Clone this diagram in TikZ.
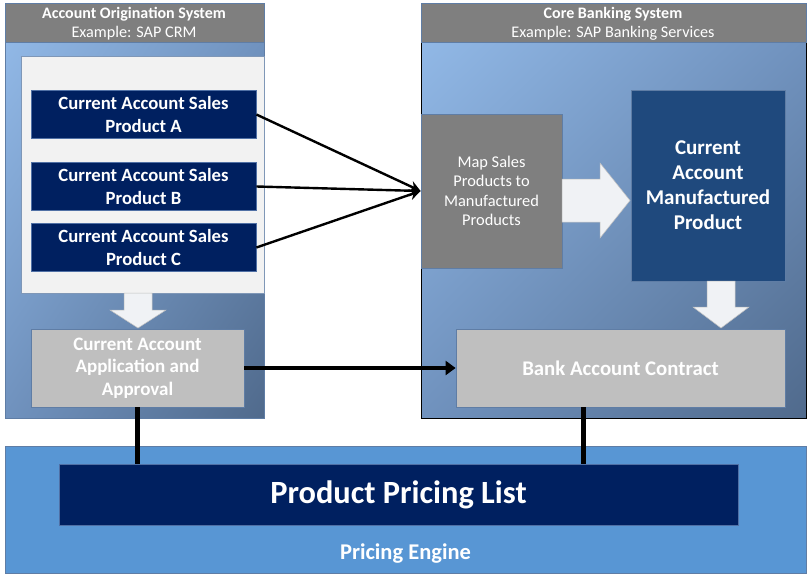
\documentclass[tikz,border=0pt]{standalone}
\usepackage{fontspec}
\setmainfont{Carlito}
\usetikzlibrary{arrows.meta,positioning,shadings}
\definecolor{hdrgray}{RGB}{127,127,127}
\definecolor{bodylt}{RGB}{145,184,230}
\definecolor{bodymid}{RGB}{112,146,190}
\definecolor{bodydk}{RGB}{80,106,140}
\definecolor{panel}{RGB}{242,242,242}
\definecolor{navy}{RGB}{0,32,96}
\definecolor{navyedge}{RGB}{80,112,165}
\definecolor{lgray}{RGB}{191,191,191}
\definecolor{boxedge}{RGB}{95,125,165}
\definecolor{mfg}{RGB}{31,73,125}
\definecolor{engine}{RGB}{88,150,212}
\definecolor{arrowfill}{RGB}{240,242,245}
\tikzset{
  box/.style={draw=boxedge, line width=0.8pt, inner sep=0pt, align=center, text=white},
  navybox/.style={box, fill=navy, draw=navyedge, font=\fontsize{18.7}{23}\selectfont\bfseries},
  graybox/.style={box, fill=lgray, font=\fontsize{19}{22.5}\selectfont\bfseries},
  hdr/.style={fill=hdrgray, draw=boxedge, line width=0.6pt},
  hdrtext/.style={text=white, font=\fontsize{16.2}{19}\selectfont},
  blockarrow/.style={fill=arrowfill, draw=black!25, line width=0.5pt},
  thinarrow/.style={draw=black, line width=2.4pt, -{Stealth[length=11pt,width=11pt]}},
  thickarrow/.style={draw=black, line width=4.5pt, -{Triangle[length=10pt,width=14pt]}},
  link/.style={draw=black, line width=5pt},
}
\begin{document}
\begin{tikzpicture}[x=1pt,y=-1pt]
\useasboundingbox (0,0) rectangle (812,576);
\fill[white] (0,0) rectangle (812,576);

% ---- Left system
\shade[upper left=bodylt, upper right=bodymid, lower left=bodymid, lower right=bodydk] (5,42) rectangle (264,418);
\draw[boxedge, line width=0.6pt] (5,42) rectangle (264,418);
\draw[hdr] (5,3) rectangle (264,42);
\node[hdrtext, font=\fontsize{16}{19}\selectfont\bfseries] (lh1) at (134,14.5) {Account Origination System};
\node[hdrtext] (lh2) at (134,33.5) {Example: SAP CRM};

\node[box, fill=panel, draw=boxedge!80, minimum width=243pt, minimum height=237pt] (panel) at (142.5,174.5) {};
\node[navybox, minimum width=225pt, minimum height=48pt] (pa) at (143.5,114.5) {Current Account Sales\\Product A};
\node[navybox, minimum width=225pt, minimum height=48pt] (pb) at (143.5,186.5) {Current Account Sales\\Product B};
\node[navybox, minimum width=225pt, minimum height=48pt] (pc) at (143.5,247.5) {Current Account Sales\\Product C};

% down block arrow left
\draw[blockarrow] (124,293) -- (152,293) -- (152,310) -- (166,310) -- (138,328) -- (110,310) -- (124,310) -- cycle;

\node[graybox, minimum width=213pt, minimum height=78pt] (app) at (137.5,368) {Current Account\\Application and\\Approval};

% ---- Right system
\shade[upper left=bodylt, upper right=bodymid, lower left=bodymid, lower right=bodydk] (421,42) rectangle (806,418);
\draw[black, line width=1pt] (421,42) rectangle (806,418);
\draw[hdr] (421,3) rectangle (806,42);
\node[hdrtext, font=\fontsize{16}{19}\selectfont\bfseries] (rh1) at (613,14.5) {Core Banking System};
\node[hdrtext] (rh2) at (613,33.5) {Example: SAP Banking Services};

\node[box, fill=hdrgray, draw=boxedge, minimum width=141pt, minimum height=154pt,
      font=\fontsize{16.4}{19.5}\selectfont] (map) at (491.5,191) {Map Sales\\Products to\\Manufactured\\Products};
\node[box, fill=mfg, draw=boxedge, minimum width=154pt, minimum height=191pt,
      font=\fontsize{21}{25}\selectfont\bfseries] (mfgp) at (708,185.5) {Current\\Account\\Manufactured\\Product};

% right block arrow
\draw[blockarrow] (562,179) -- (600,179) -- (600,163) -- (630,200.5) -- (600,238) -- (600,222) -- (562,222) -- cycle;
% down block arrow right
\draw[blockarrow] (707,281) -- (735,281) -- (735,307) -- (749,307) -- (721,328) -- (693,307) -- (707,307) -- cycle;

\node[graybox, minimum width=329pt, minimum height=78pt, font=\fontsize{20.8}{24}\selectfont\bfseries] (bac) at (620.5,368) {Bank Account Contract};

% ---- Pricing engine
\node[box, fill=engine, draw=boxedge, minimum width=801pt, minimum height=127pt] (eng) at (405.5,509.5) {};
\node[text=white, font=\fontsize{22.5}{26}\selectfont\bfseries] (engt) at (405.5,554) {Pricing Engine};
\node[box, fill=navy, draw=navyedge, minimum width=679pt, minimum height=61pt,
      font=\fontsize{32.4}{38}\selectfont\bfseries] (ppl) at (398.5,494.5) {Product Pricing List};

% ---- connectors
\coordinate (mapin) at (map.west);
\draw[thinarrow] (pa.east) -- (mapin);
\draw[thinarrow] (pb.east) -- (mapin);
\draw[thinarrow] (pc.east) -- (mapin);
\draw[thickarrow] (app.east) -- (bac.west);
\draw[link] (app.south) -- (app.south |- ppl.north);
\coordinate (bacdown) at (583,407);
\draw[link] (bacdown) -- (bacdown |- ppl.north);
\end{tikzpicture}
\end{document}
